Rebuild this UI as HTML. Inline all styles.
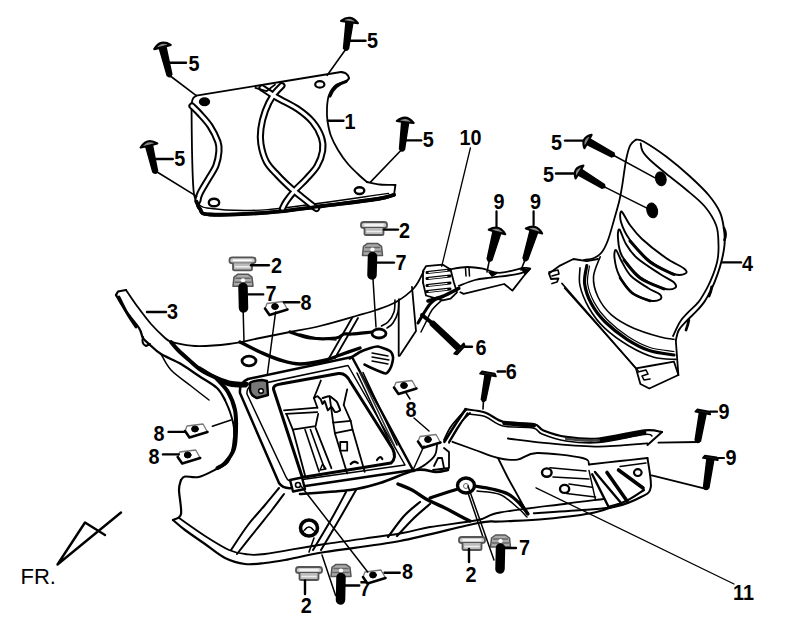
<!DOCTYPE html>
<html><head><meta charset="utf-8"><style>
html,body{margin:0;padding:0;background:#fff;overflow:hidden;}
svg{display:block;}
text{font-family:"Liberation Sans",sans-serif;fill:#000;stroke:none;}
</style></head><body>
<svg width="800" height="627" viewBox="0 0 800 627" stroke="#000" stroke-linecap="round" stroke-linejoin="round" fill="none">
<rect width="800" height="627" fill="#fff" stroke="none"/>
<path d="M191.5,104 C191.6,111.7 191.7,135.5 192,150 C192.3,164.5 192.8,182.4 193.6,191 C194.4,199.6 196.2,199.8 196.7,201.5" stroke-width="1.8" fill="none"/>
<path d="M196.3,95.7 L341,72" stroke-width="1.8" fill="none"/>
<path d="M191.5,104 C191.8,103.1 192.2,99.9 193,98.5 C193.8,97.1 195.8,96.2 196.3,95.7" stroke-width="1.8" fill="none"/>
<path d="M341,72 C341.8,72.2 344.7,72.5 346,73.5 C347.3,74.5 349,76.7 349,78 C349,79.3 346.5,80.9 346,81.5" stroke-width="2.2" fill="none"/>
<path d="M346,81.5 C344.3,82.1 338.8,82.8 336,85 C333.2,87.2 330.5,91.2 329,95 C327.5,98.8 327.2,103.7 327,108 C326.8,112.3 326.8,116.3 327.5,121 C328.2,125.7 329.2,131.2 331,136 C332.8,140.8 335.2,145.3 338,150 C340.8,154.7 344.3,159.7 348,164 C351.7,168.3 356.8,173 360,176 C363.2,179 365.8,181 367,182" stroke-width="1.8" fill="none"/>
<path d="M346,81.5 Q334,85 330,96" stroke-width="3.2" fill="none"/>
<path d="M367,182 C369.2,182.4 375.3,184 380,184.5 C384.7,185 392.8,184.9 395.4,185" stroke-width="1.8" fill="none"/>
<path d="M395.4,185 L394,194.8" stroke-width="1.8" fill="none"/>
<path d="M196.7,201.5 C197.2,202.8 197.8,206.8 200,209 C202.2,211.2 198.5,213.9 209.8,214.5 C221,215.1 248.7,214 267.5,212.6 C286.3,211.2 304.2,208.3 322.5,206 C340.8,203.7 365.6,200.9 377.5,199 C389.4,197.1 391.2,195.5 394,194.8" stroke-width="3.8" fill="none"/>
<path d="M198.8,200 C200.1,201.3 195.5,206.4 207,208 C218.5,209.6 237.2,212 267.5,209.6 C297.8,207.2 368.3,196.1 388.5,193.4" stroke-width="1.4" fill="none"/>
<ellipse cx="204.5" cy="101.8" rx="4.6" ry="3.4" stroke-width="2.2" fill="#000" transform="rotate(0 204.5 101.8)"/>
<ellipse cx="214" cy="202.5" rx="5.2" ry="3.8" stroke-width="2.4" fill="#fff" transform="rotate(0 214 202.5)"/>
<ellipse cx="319.8" cy="84.4" rx="4.6" ry="3.2" stroke-width="2.2" fill="#fff" transform="rotate(0 319.8 84.4)"/>
<ellipse cx="359.5" cy="190.6" rx="4.8" ry="3.4" stroke-width="2.4" fill="#fff" transform="rotate(0 359.5 190.6)"/>
<path d="M192,106 C193.3,107.3 197,110.7 200,114 C203,117.3 207,121.4 210,126 C213,130.6 216.4,137.5 217.9,141.8 C219.4,146.1 219.2,147.8 218.9,151.8 C218.6,155.8 217.7,161 215.9,165.7 C214.1,170.3 210.6,175 207.9,179.7 C205.2,184.3 201.6,190.1 199.9,193.6 C198.2,197.1 198.2,199.4 197.9,200.6" stroke-width="7.2" fill="none"/>
<path d="M192,106 C193.3,107.3 197,110.7 200,114 C203,117.3 207,121.4 210,126 C213,130.6 216.4,137.5 217.9,141.8 C219.4,146.1 219.2,147.8 218.9,151.8 C218.6,155.8 217.7,161 215.9,165.7 C214.1,170.3 210.6,175 207.9,179.7 C205.2,184.3 201.6,190.1 199.9,193.6 C198.2,197.1 198.2,199.4 197.9,200.6" stroke-width="3.2" fill="none" stroke="#fff"/>
<path d="M281.9,85.7 C280.4,87.3 275.8,91.4 273,95.6 C270.2,99.8 267.3,105.5 265.3,111 C263.3,116.5 261.6,123.2 260.9,128.7 C260.2,134.2 260,138.5 260.9,144 C261.8,149.5 263.6,156.5 266.4,161.7 C269.1,166.9 273.3,170.6 277.4,175 C281.4,179.4 286.6,184.3 290.7,188 C294.8,191.7 298,194 301.7,197 C305.4,200 310.2,203.9 312.7,205.8 C315.2,207.7 315.9,208.1 316.5,208.5" stroke-width="7.2" fill="none"/>
<path d="M262,87.9 C264.6,89.6 271.5,94.3 277.4,97.8 C283.3,101.3 291.4,104.8 297.3,108.8 C303.2,112.8 308.7,117.2 312.7,122 C316.7,126.8 319.9,132.7 321.5,137.5 C323.1,142.3 323.3,145.9 322.6,150.7 C321.9,155.4 319.9,161.2 317.1,166 C314.3,170.8 309.7,175.2 306,179.3 C302.3,183.4 298.3,186.6 295,190.3 C291.7,194 288.4,198.3 286.3,201.3 C284.2,204.3 283.1,207.3 282.5,208.5" stroke-width="7.2" fill="none"/>
<path d="M281.9,85.7 C280.4,87.3 275.8,91.4 273,95.6 C270.2,99.8 267.3,105.5 265.3,111 C263.3,116.5 261.6,123.2 260.9,128.7 C260.2,134.2 260,138.5 260.9,144 C261.8,149.5 263.6,156.5 266.4,161.7 C269.1,166.9 273.3,170.6 277.4,175 C281.4,179.4 286.6,184.3 290.7,188 C294.8,191.7 298,194 301.7,197 C305.4,200 310.2,203.9 312.7,205.8 C315.2,207.7 315.9,208.1 316.5,208.5" stroke-width="3.2" fill="none" stroke="#fff"/>
<path d="M262,87.9 C264.6,89.6 271.5,94.3 277.4,97.8 C283.3,101.3 291.4,104.8 297.3,108.8 C303.2,112.8 308.7,117.2 312.7,122 C316.7,126.8 319.9,132.7 321.5,137.5 C323.1,142.3 323.3,145.9 322.6,150.7 C321.9,155.4 319.9,161.2 317.1,166 C314.3,170.8 309.7,175.2 306,179.3 C302.3,183.4 298.3,186.6 295,190.3 C291.7,194 288.4,198.3 286.3,201.3 C284.2,204.3 283.1,207.3 282.5,208.5" stroke-width="3.2" fill="none" stroke="#fff"/>
<path d="M196.7,201.5 C197.2,202.8 197.8,206.8 200,209 C202.2,211.2 198.5,213.9 209.8,214.5 C221,215.1 248.7,214 267.5,212.6 C286.3,211.2 304.2,208.3 322.5,206 C340.8,203.7 365.6,200.9 377.5,199 C389.4,197.1 391.2,195.5 394,194.8" stroke-width="3.4" fill="none"/>
<path d="M255.4,87.9 L266.4,91.2 L275,84.6" stroke-width="1.8" fill="none"/>
<path d="M159.1,47.8 L167.1,75.6 L171.9,74.4 L165.9,46.2 Z" stroke-width="1.4" fill="#000"/>
<ellipse cx="169.5" cy="75" rx="2.5" ry="2.5" stroke-width="0" fill="#000" transform="rotate(0 169.5 75)"/>
<path d="M154.3,49.1 Q160.4,38.8 170.7,44.9 Q162.6,47.5 154.3,49.1 Z" stroke-width="2.2" fill="#888"/>
<line x1="169.7" y1="62.8" x2="186" y2="62.8" stroke-width="2.4"/>
<text transform="translate(188.5,70.5) scale(0.88,1)" x="0" y="0" font-size="22.5" font-weight="bold" >5</text>
<line x1="169.7" y1="75.5" x2="196.3" y2="95.7" stroke-width="1.6"/>
<path d="M346,21.5 L343.5,48.2 L348.5,48.8 L353,22.5 Z" stroke-width="1.4" fill="#000"/>
<ellipse cx="346" cy="48.5" rx="2.5" ry="2.5" stroke-width="0" fill="#000" transform="rotate(0 346 48.5)"/>
<path d="M341.1,20.9 Q350.6,13.6 357.9,23.1 Q349.4,22.5 341.1,20.9 Z" stroke-width="2.2" fill="#888"/>
<line x1="349" y1="40.8" x2="365.5" y2="40.8" stroke-width="2.4"/>
<text transform="translate(367,48) scale(0.88,1)" x="0" y="0" font-size="22.5" font-weight="bold" >5</text>
<line x1="346.3" y1="48.5" x2="327.2" y2="75.3" stroke-width="1.6"/>
<path d="M145.6,146.3 L152.8,172.1 L157.6,170.9 L152.4,144.7 Z" stroke-width="1.4" fill="#000"/>
<ellipse cx="155.2" cy="171.5" rx="2.5" ry="2.5" stroke-width="0" fill="#000" transform="rotate(0 155.2 171.5)"/>
<path d="M140.7,147.5 Q147,137.2 157.3,143.5 Q149.1,146 140.7,147.5 Z" stroke-width="2.2" fill="#888"/>
<line x1="156.3" y1="159" x2="172.8" y2="159" stroke-width="2.4"/>
<text transform="translate(174.3,166) scale(0.88,1)" x="0" y="0" font-size="22.5" font-weight="bold" >5</text>
<line x1="156.3" y1="171.5" x2="196.7" y2="196.4" stroke-width="1.6"/>
<path d="M401.7,121.6 L399.5,149 L404.5,149.6 L408.7,122.4 Z" stroke-width="1.4" fill="#000"/>
<ellipse cx="402" cy="149.3" rx="2.5" ry="2.5" stroke-width="0" fill="#000" transform="rotate(0 402 149.3)"/>
<path d="M396.8,121 Q406.2,113.6 413.6,123 Q405.1,122.5 396.8,121 Z" stroke-width="2.2" fill="#888"/>
<line x1="405.9" y1="140.4" x2="421.2" y2="140.4" stroke-width="2.4"/>
<text transform="translate(422.8,146.5) scale(0.88,1)" x="0" y="0" font-size="22.5" font-weight="bold" >5</text>
<line x1="402" y1="149.3" x2="370.2" y2="182.4" stroke-width="1.6"/>
<line x1="328" y1="120.7" x2="343.4" y2="120.7" stroke-width="2.4"/>
<text transform="translate(344.5,128.5) scale(0.88,1)" x="0" y="0" font-size="22.5" font-weight="bold" >1</text>
<path d="M636,139.6 C635,140.6 631.8,142.1 630.2,145.3 C628.6,148.5 627.6,152.3 626.3,158.7 C625,165.1 623.6,176.7 622.5,183.6 C621.4,190.5 620.9,193.9 619.5,200 C618.1,206.1 615.9,213.3 614,220 C612.1,226.7 610,234.7 608,240 C606,245.3 604.3,249 602,252 C599.7,255 597,256.7 594,258 C591,259.3 585.7,259.7 584,260" stroke-width="1.8" fill="none"/>
<path d="M636,139.6 C637.3,139.9 638.5,138.6 643.6,141.5 C648.7,144.4 658.9,151.1 666.5,156.8 C674.1,162.6 682.5,169.6 689.5,176 C696.5,182.4 703.5,188.9 708.6,195 C713.7,201.1 717.4,206.6 720,212.3 C722.6,218.1 723.2,224.1 724,229.5 C724.8,234.9 724.9,239.9 724.5,245 C724.1,250.1 723,255.1 721.8,260 C720.6,264.9 719.2,269.6 717.5,274.4 C715.8,279.2 713.9,284.2 711.7,288.7 C709.5,293.2 707.1,297.8 704.5,301.6 C701.9,305.4 699.1,308.4 696,311.7 C692.9,315 688.8,318.6 685.9,321.7 C683,324.8 680.4,327.2 678.7,330.3 C677,333.4 676.3,338.7 675.8,340.4" stroke-width="1.9" fill="none"/>
<path d="M640.7,143.4 C641,144.7 641,148.2 642.5,151 C644,153.8 646,156.2 650,160 C654,163.8 660.5,169.1 666.5,174 C672.5,178.9 679.3,183.9 685.7,189.3 C692.1,194.7 699.7,200.4 704.8,206.5 C709.9,212.6 714,219.3 716.3,225.7 C718.6,232.1 718.3,239.3 718.5,245 C718.7,250.7 718.4,255.1 717.5,260 C716.6,264.9 714.9,269.8 713.2,274.4 C711.5,278.9 709.8,282.8 707.4,287.3 C705,291.8 701.9,297.5 698.8,301.6 C695.7,305.7 691.9,308.4 688.8,311.7 C685.7,315 682.7,317.6 680.1,321.7 C677.5,325.8 674.2,333.6 673,336" stroke-width="1.8" fill="none"/>
<path d="M724,228 Q727,234 724.5,240" stroke-width="2.6" fill="none"/>
<path d="M711.7,287 Q711,292 709,296" stroke-width="2.8" fill="none"/>
<path d="M688.8,320 Q688,325 686,330" stroke-width="2.8" fill="none"/>
<ellipse cx="660.8" cy="178.8" rx="5.3" ry="7" stroke-width="1" fill="#000" transform="rotate(-15 660.8 178.8)"/>
<ellipse cx="652.2" cy="210.4" rx="5.3" ry="7.5" stroke-width="1" fill="#000" transform="rotate(-15 652.2 210.4)"/>
<path d="M621.5,211.5 C623,212 626.6,220.4 630,225 C633.4,229.6 636,233.5 642,239 C648,244.5 659,253.1 666,258 C673,262.9 680.8,265.9 684,268.5 C687.2,271.1 687.2,272.6 685.5,273.5 C683.8,274.4 679.9,276.1 674,274 C668.1,271.9 657.3,266.7 650,261 C642.7,255.3 634.8,246.5 630,240 C625.2,233.5 622.4,226.8 621,222 C619.6,217.2 620,211 621.5,211.5 Z" stroke-width="1.9" fill="none"/>
<path d="M674,274.5 C670,272.4 657.3,267.6 650,262 C642.7,256.4 633.3,244.5 630,241" stroke-width="3" fill="none"/>
<path d="M619.5,229.5 C620.8,230.5 623.1,239.2 626,244 C628.9,248.8 631.3,253 637,258 C642.7,263 653.8,269.9 660,274 C666.2,278.1 671.5,280.2 674,282.5 C676.5,284.8 676.7,287 675,288 C673.3,289 669.8,290.3 664,288.5 C658.2,286.7 647,282.4 640,277 C633,271.6 625.7,262.5 622,256 C618.3,249.5 618.4,242.4 618,238 C617.6,233.6 618.2,228.5 619.5,229.5 Z" stroke-width="1.9" fill="none"/>
<path d="M664,289 C660,287.2 646.7,282.8 640,278 C633.3,273.2 626.7,263 624,260" stroke-width="3" fill="none"/>
<path d="M616,250 C617.2,250.7 619.5,257.7 622,262 C624.5,266.3 626.7,271.7 631,276 C635.3,280.3 643.2,284.9 648,288 C652.8,291.1 658,292.6 660,294.5 C662,296.4 661.7,298.5 660,299.5 C658.3,300.5 654.7,301.7 650,300.5 C645.3,299.3 637.2,296.8 632,292.5 C626.8,288.2 621.9,280.8 619,275 C616.1,269.2 615,262.2 614.5,258 C614,253.8 614.8,249.3 616,250 Z" stroke-width="1.9" fill="none"/>
<path d="M650,301 C647,299.7 637,296.8 632,293 C627,289.2 622,280.5 620,278" stroke-width="2.6" fill="none"/>
<path d="M600.2,256.7 C599.1,260.1 593.9,270.1 593.5,276.8 C593.1,283.5 595,290.7 598,297 C601,303.3 605.4,309.6 611.4,314.8 C617.4,320 625.5,324.5 633.7,328.2 C641.9,331.9 653.8,335.2 660.5,337.1 C667.2,339 671.8,338.9 674,339.3" stroke-width="1.6" fill="none"/>
<path d="M586.8,265.6 C586.4,268.6 583.9,277.2 584.6,283.5 C585.4,289.8 587.9,297.3 591.3,303.6 C594.6,309.9 598.8,315.6 604.7,321.5 C610.7,327.4 619.6,334.5 627,339.3 C634.4,344.1 641.5,347.9 649.3,350.5 C657.1,353.1 669.9,354.2 674,355" stroke-width="3.2" fill="none"/>
<path d="M589.5,266 C589.2,268.9 586.8,277.4 587.6,283.5 C588.4,289.6 591.1,296.6 594.3,302.6 C597.5,308.6 601.4,313.9 607,319.5 C612.6,325.1 620.8,331.8 628,336.5 C635.2,341.2 642.3,345 650,347.5 C657.7,350 670,350.8 674,351.5" stroke-width="1.2" fill="none"/>
<path d="M580,267.9 C580,270.9 578.5,279 580,285.7 C581.5,292.4 584.9,300.9 589,308 C593.1,315.1 598,321.9 604.7,328.2 C611.4,334.5 620.8,341.2 629,346 C637.2,350.8 646,355 653.8,357.2 C661.6,359.4 672.3,359 676,359.4" stroke-width="1.6" fill="none"/>
<path d="M549,273.4 L560,265.6 L573.4,259 L586.8,261.2 L598,259" stroke-width="1.8" fill="none"/>
<path d="M549,273.4 L551,279 L558.5,278.5 L557,282 L552,283.5" stroke-width="1.8" fill="none"/>
<path d="M549,272 L558,270 L559,274 L552,276" stroke-width="1.6" fill="none"/>
<line x1="562" y1="283.5" x2="636" y2="368.4" stroke-width="1.8"/>
<line x1="564.5" y1="288" x2="638.2" y2="370.6" stroke-width="1.4"/>
<path d="M636,368.4 L649.3,366 L674,361.7 L678.4,375 L649.3,388.5 L640.4,384 L636,368.4" stroke-width="1.8" fill="none"/>
<path d="M638,372 L646,370 L648,374 L642,376 L644,380 L650,379" stroke-width="1.6" fill="none"/>
<path d="M675.8,340.4 L677.3,360.6 L678.4,375" stroke-width="1.8" fill="none"/>
<path d="M586.5,144.4 L611.9,157 L614.1,153 L589.5,138.6 Z" stroke-width="1.4" fill="#000"/>
<ellipse cx="613" cy="155" rx="2.2" ry="2.2" stroke-width="0" fill="#000" transform="rotate(0 613 155)"/>
<path d="M584.4,148.1 Q580.5,137.5 591.6,134.9 Q588.4,141.7 584.4,148.1 Z" stroke-width="2.2" fill="#888"/>
<line x1="613" y1="155" x2="655" y2="177.8" stroke-width="1.5"/>
<line x1="565" y1="140.6" x2="583" y2="140.6" stroke-width="2.4"/>
<text transform="translate(551,149.5) scale(0.88,1)" x="0" y="0" font-size="22.5" font-weight="bold" >5</text>
<path d="M577.8,174.8 L602.2,188.3 L604.6,184.5 L581.2,169.2 Z" stroke-width="1.4" fill="#000"/>
<ellipse cx="603.4" cy="186.4" rx="2.2" ry="2.2" stroke-width="0" fill="#000" transform="rotate(0 603.4 186.4)"/>
<path d="M575.6,178.4 Q572.2,167.6 583.4,165.6 Q579.9,172.3 575.6,178.4 Z" stroke-width="2.2" fill="#888"/>
<line x1="603.4" y1="186.4" x2="647.4" y2="208.4" stroke-width="1.5"/>
<line x1="556" y1="173.5" x2="574" y2="173.5" stroke-width="2.4"/>
<text transform="translate(543,181.5) scale(0.88,1)" x="0" y="0" font-size="22.5" font-weight="bold" >5</text>
<line x1="722" y1="262.4" x2="741" y2="262.4" stroke-width="2.4"/>
<text transform="translate(742,270.5) scale(0.88,1)" x="0" y="0" font-size="22.5" font-weight="bold" >4</text>
<text transform="translate(459.5,145) scale(0.88,1)" x="0" y="0" font-size="22.5" font-weight="bold" >10</text>
<line x1="470.4" y1="148" x2="441.7" y2="266.4" stroke-width="1.3"/>
<text transform="translate(493.5,209) scale(0.88,1)" x="0" y="0" font-size="22.5" font-weight="bold" >9</text>
<line x1="496.5" y1="211.4" x2="496.5" y2="226.4" stroke-width="2.2"/>
<path d="M493.1,231 L487.1,258.9 L491.9,260.3 L500.9,233 Z" stroke-width="1.4" fill="#000"/>
<ellipse cx="489.5" cy="259.6" rx="2.5" ry="2.5" stroke-width="0" fill="#000" transform="rotate(0 489.5 259.6)"/>
<path d="M488.8,229.8 Q499.2,223.8 505.2,234.2 Q496.9,232.5 488.8,229.8 Z" stroke-width="2.2" fill="#888"/>
<line x1="489.5" y1="259.6" x2="487" y2="272" stroke-width="1.6"/>
<text transform="translate(530,209) scale(0.88,1)" x="0" y="0" font-size="22.5" font-weight="bold" >9</text>
<line x1="533.6" y1="211.4" x2="533.6" y2="225" stroke-width="2.2"/>
<path d="M530.2,229.8 L523,258.2 L527.8,259.6 L537.8,232.2 Z" stroke-width="1.4" fill="#000"/>
<ellipse cx="525.4" cy="258.9" rx="2.5" ry="2.5" stroke-width="0" fill="#000" transform="rotate(0 525.4 258.9)"/>
<path d="M525.9,228.5 Q536.5,222.9 542.1,233.5 Q533.9,231.5 525.9,228.5 Z" stroke-width="2.2" fill="#888"/>
<line x1="525.4" y1="258.9" x2="521" y2="270" stroke-width="1.6"/>
<path d="M423,282.5 L423,271 L426,266.2 L442.5,264.6 L450.6,269.5" stroke-width="1.8" fill="none"/>
<path d="M449,269.5 C452,269.1 461.3,267.1 467,267 C472.7,266.9 477.6,267.7 483,268.7 C488.4,269.7 492.6,272.9 499.4,272.8 C506.2,272.6 518.6,268.7 523.8,268 C528.9,267.3 529.1,268.6 530.2,268.7" stroke-width="1.8" fill="none"/>
<path d="M458.8,285.8 C461.5,284.8 469.6,281.4 475,280 C480.4,278.6 484.2,278.5 491,277.6 C497.8,276.7 509.6,275.5 515.6,274.4 C521.6,273.3 525.1,271.6 527,271" stroke-width="1.8" fill="none"/>
<path d="M530.2,268.7 L523.8,276 L512.4,290.6 L504.2,284 L463.6,293.9 L460.4,292.3" stroke-width="1.8" fill="none"/>
<path d="M423,282.5 L426,295.5 L442.5,300.4 L450.6,298.7 L457,292.3 L453.9,282.5 L450.6,269.5" stroke-width="1.8" fill="none"/>
<line x1="427" y1="272.5" x2="450" y2="270" stroke-width="3"/>
<line x1="429" y1="272.5" x2="447" y2="270.5" stroke-width="1" stroke="#fff"/>
<line x1="427" y1="278.5" x2="450" y2="276" stroke-width="3"/>
<line x1="429" y1="278.5" x2="447" y2="276.5" stroke-width="1" stroke="#fff"/>
<line x1="427" y1="285.5" x2="450" y2="283" stroke-width="3"/>
<line x1="429" y1="285.5" x2="447" y2="283.5" stroke-width="1" stroke="#fff"/>
<line x1="427" y1="291.5" x2="450" y2="289" stroke-width="3"/>
<line x1="429" y1="291.5" x2="447" y2="289.5" stroke-width="1" stroke="#fff"/>
<line x1="465.5" y1="268" x2="466" y2="276" stroke-width="1.5"/>
<line x1="469" y1="268" x2="469.5" y2="276" stroke-width="1.5"/>
<path d="M489,272 L492,276 L497,273 Z" stroke-width="1.5" fill="#000"/>
<path d="M428,301 C430.4,300.2 437.4,298.6 442.5,296.5 C447.6,294.4 456,289.8 458.8,288.4" stroke-width="3.6" fill="none"/>
<path d="M522,269 L525,274 L529,270 Z" stroke-width="1.5" fill="#000"/>
<path d="M229.5,259.8 Q229.5,257.3 232.5,257.3 L252.5,257.3 Q255.5,257.3 255.5,259.8 L255.5,261.3 Q255.5,263.3 252.5,263.3 L232.5,263.3 Q229.5,263.3 229.5,261.3 Z" stroke-width="1.8" fill="#ccc" stroke="#555"/>
<line x1="233.5" y1="260.3" x2="251.5" y2="260.3" stroke-width="1.6" stroke="#fff"/>
<path d="M233.0,263.3 L233.0,269.3 Q233.0,270.3 234.5,270.3 L250.5,270.3 Q252.0,270.3 252.0,269.3 L252.0,263.3" stroke-width="1.8" fill="#bbb" stroke="#555"/>
<line x1="235.5" y1="266.8" x2="249.5" y2="266.8" stroke-width="1.6" stroke="#eee"/>
<line x1="251" y1="265.2" x2="268.9" y2="265.2" stroke-width="2.4"/>
<text transform="translate(271,273) scale(0.88,1)" x="0" y="0" font-size="22.5" font-weight="bold" >2</text>
<path d="M233,286.2 L234,277.2 L238,274.2 L248,274.2 L252,277.2 L253,286.2 Z" stroke-width="1.5" fill="#aaa" stroke="#555"/>
<line x1="236" y1="278.2" x2="250" y2="278.2" stroke-width="1.5" stroke="#666"/>
<line x1="235" y1="282.2" x2="251" y2="282.2" stroke-width="1.5" stroke="#666"/>
<ellipse cx="243" cy="280.2" rx="2.2" ry="2" stroke-width="0" fill="#fff" transform="rotate(0 243 280.2)"/>
<line x1="243" y1="287.2" x2="243.5" y2="308" stroke-width="9.5"/>
<line x1="248.6" y1="294.4" x2="263.2" y2="294.4" stroke-width="2.4"/>
<text transform="translate(265.5,301.3) scale(0.88,1)" x="0" y="0" font-size="22.5" font-weight="bold" >7</text>
<line x1="243.2" y1="312" x2="244" y2="342" stroke-width="1.5"/>
<path d="M265,308.5 L269.5,315 L287.5,309.5 L283,301.5 L267,303.5 Z" stroke-width="1.3" fill="#fff" stroke="#777"/>
<path d="M265,308.5 L269.5,315 L287.5,309.5" stroke-width="2.6" fill="none"/>
<ellipse cx="275" cy="306.5" rx="3.4" ry="3" stroke-width="1" fill="#000" transform="rotate(0 275 306.5)"/>
<line x1="284" y1="302.3" x2="299.2" y2="302.3" stroke-width="2.4"/>
<text transform="translate(300.5,310.3) scale(0.88,1)" x="0" y="0" font-size="22.5" font-weight="bold" >8</text>
<line x1="275.6" y1="312" x2="267.4" y2="374" stroke-width="1.5"/>
<path d="M361,224.5 Q361,222 364,222 L384,222 Q387,222 387,224.5 L387,226 Q387,228 384,228 L364,228 Q361,228 361,226 Z" stroke-width="1.8" fill="#ccc" stroke="#555"/>
<line x1="365" y1="225" x2="383" y2="225" stroke-width="1.6" stroke="#fff"/>
<path d="M364.5,228 L364.5,234 Q364.5,235 366,235 L382,235 Q383.5,235 383.5,234 L383.5,228" stroke-width="1.8" fill="#bbb" stroke="#555"/>
<line x1="367" y1="231.5" x2="381" y2="231.5" stroke-width="1.6" stroke="#eee"/>
<line x1="384" y1="229.6" x2="398" y2="229.6" stroke-width="2.4"/>
<text transform="translate(399,238) scale(0.88,1)" x="0" y="0" font-size="22.5" font-weight="bold" >2</text>
<path d="M362.5,255.4 L363.5,246.4 L367.5,243.4 L377.5,243.4 L381.5,246.4 L382.5,255.4 Z" stroke-width="1.5" fill="#aaa" stroke="#555"/>
<line x1="365.5" y1="247.4" x2="379.5" y2="247.4" stroke-width="1.5" stroke="#666"/>
<line x1="364.5" y1="251.4" x2="380.5" y2="251.4" stroke-width="1.5" stroke="#666"/>
<ellipse cx="372.5" cy="249.4" rx="2.2" ry="2" stroke-width="0" fill="#fff" transform="rotate(0 372.5 249.4)"/>
<line x1="372.5" y1="256.4" x2="372" y2="275" stroke-width="9.5"/>
<line x1="376" y1="262.6" x2="394" y2="262.6" stroke-width="2.4"/>
<text transform="translate(395.5,270) scale(0.88,1)" x="0" y="0" font-size="22.5" font-weight="bold" >7</text>
<line x1="373" y1="279" x2="376" y2="327" stroke-width="1.5"/>
<path d="M116,295 L118,291.5 L126,290" stroke-width="2.2" fill="none"/>
<path d="M126,290 C127.8,292.7 132.8,300.3 137,306 C141.2,311.7 146.3,318.7 151,324 C155.7,329.3 161.7,335 165,338 C168.3,341 170,341.3 171,342" stroke-width="1.8" fill="none"/>
<path d="M116,295 C117.5,297.5 121.2,304.5 125,310 C128.8,315.5 136,323.3 139,328 C142,332.7 141.3,335.3 143,338 C144.7,340.7 146,341.3 149,344 C152,346.7 155.7,350.7 161,354 C166.3,357.3 174.7,360.3 181,364 C187.3,367.7 193,372 199,376 C205,380 212.7,384 217,388 C221.3,392 223.7,398 225,400" stroke-width="2.3" fill="none"/>
<path d="M119,297 C120.3,299.7 124.2,308 127,313 C129.8,318 134.5,324.7 136,327" stroke-width="2.8" fill="none"/>
<path d="M171,342 C172.2,343.3 175,347 178,350 C181,353 185.2,356.7 189,360 C192.8,363.3 196.3,367 201,370 C205.7,373 211.8,375.8 217,378 C222.2,380.2 227,382 232,383 C237,384 244.5,383.8 247,384" stroke-width="4" fill="none"/>
<path d="M161,354 C162.7,356.7 166,364.7 171,370 C176,375.3 184.7,381 191,386 C197.3,391 206,397.7 209,400" stroke-width="1.5" fill="none"/>
<path d="M143,337 Q141,344 146,346 L150,344" stroke-width="2" fill="none"/>
<path d="M171,342 C175,342.7 185.3,345.7 195,346 C204.7,346.3 218.2,345.3 229,344 C239.8,342.7 249.8,340 260,338 C270.2,336 280,334 290,332 C300,330 309,328.7 320,326 C331,323.3 346.7,318.7 356,316 C365.3,313.3 369.3,312.3 376,310 C382.7,307.7 389.7,305.7 396,302 C402.3,298.3 409.4,293.1 414,288 C418.6,282.9 422,274.2 423.6,271.5" stroke-width="1.8" fill="none"/>
<path d="M240,342 C243.3,343.7 253.3,349 260,352 C266.7,355 273.3,358 280,360 C286.7,362 292.3,364 300,364 C307.7,364 319.3,361.5 326,360 C332.7,358.5 334.3,357 340,355 C345.7,353 356.7,349.2 360,348" stroke-width="3.4" fill="none"/>
<path d="M290,332 C293.3,333 302.3,337 310,338 C317.7,339 330.3,338.7 336,338 C341.7,337.3 341.3,334.7 344,334 C346.7,333.3 347.3,334.3 352,334 C356.7,333.7 368.7,332.3 372,332" stroke-width="3.2" fill="none"/>
<path d="M300,334 C303.3,334.8 314,337.5 320,338.5 C326,339.5 333.3,339.8 336,340" stroke-width="1.4" fill="none"/>
<line x1="352" y1="318" x2="328" y2="360" stroke-width="1.8"/>
<line x1="358" y1="318" x2="335" y2="358" stroke-width="1.8"/>
<ellipse cx="249" cy="361" rx="7" ry="4.8" stroke-width="2.8" fill="#fff" transform="rotate(0 249 361)"/>
<ellipse cx="379" cy="333.5" rx="7" ry="4.5" stroke-width="2.8" fill="#fff" transform="rotate(0 379 333.5)"/>
<path d="M200,368 C202.7,369.7 211,375.2 216,378 C221,380.8 225,383.7 230,385 C235,386.3 243.3,385.8 246,386" stroke-width="3.2" fill="none"/>
<path d="M216,378 C218,380.3 224.8,386.7 228,392 C231.2,397.3 233.7,403.7 235,410 C236.3,416.3 236.2,423.5 236,430 C235.8,436.5 235.8,443.5 234,449 C232.2,454.5 227.8,459.8 225,463 C222.2,466.2 218.8,467.2 217.5,468" stroke-width="4" fill="none"/>
<path d="M225,400 C225.8,402 228.5,407.3 230,412 C231.5,416.7 233.5,422.3 234,428 C234.5,433.7 234,440.3 233,446 C232,451.7 230.8,458.2 228,462 C225.2,465.8 221.4,466.5 216.5,469 C211.6,471.5 203.9,475.8 198.7,477 C193.4,478.2 187.9,476 185,476.5 C182.1,477 181.7,479.4 181,480" stroke-width="2" fill="none"/>
<path d="M181,480 C180.7,481.7 179,484.3 179,490 C179,495.7 182,509 181,514 C180,519 174.3,519 173,520" stroke-width="2.2" fill="none"/>
<path d="M173,520 C175,521.7 179.7,526 185,530 C190.3,534 198.3,539.3 205,544 C211.7,548.7 218.3,554.7 225,558 C231.7,561.3 238.3,563.2 245,564 C251.7,564.8 258.3,563.7 265,563 C271.7,562.3 275,561.8 285,560 C295,558.2 305.8,555.2 325,552 C344.2,548.8 374.5,545.8 400,541 C425.5,536.2 461.3,526.2 478,523 C494.7,519.8 488.8,522.2 500,521.5 C511.2,520.8 529.2,520.5 545,519 C560.8,517.5 581,515.5 594.5,512.5 C608,509.5 617.8,504.8 626,501 C634.2,497.2 641,491.8 644,490" stroke-width="2.2" fill="none"/>
<path d="M179,518 C183.3,521 196.7,530.7 205,536 C213.3,541.3 222.3,547 229,550 C235.7,553 239,553.3 245,554 C251,554.7 251.7,555.7 265,554 C278.3,552.3 302.5,547.4 325,544 C347.5,540.6 382.5,536.3 400,533.5 C417.5,530.7 417,529.2 430,527 C443,524.8 466.3,522.4 478,520 C489.7,517.6 485.1,515.2 500,512.5 C514.9,509.8 550.2,505.8 567.5,503.5 C584.8,501.2 597.5,499.8 603.5,499" stroke-width="1.8" fill="none"/>
<path d="M248,379 L352,357 L413,470 L292,488 Q283,489 279,483 L240,393 Q239,383 248,379 Z" stroke-width="2.5" fill="none"/>
<path d="M251,386 L348,365.5 L405,465 L292,481 Q288,481.5 286,477 L247,394 Q246.5,388 251,386 Z" stroke-width="1.5" fill="none"/>
<path d="M273.5,389.3 Q273,385 280.5,384 L338.4,373.5 Q346,372.5 350.7,382.3 L392.8,449 Q397,458 391,463 L305,477 Q302,477 301.6,475.3 Z" stroke-width="3" fill="none"/>
<path d="M357,373 L392,447" stroke-width="1.6" fill="none"/>
<path d="M363,372.5 L397,445" stroke-width="1.6" fill="none"/>
<path d="M360,373 L394.5,446" stroke-width="1.6" fill="none" stroke="#333"/>
<path d="M284,410.4 L317.4,407.7" stroke-width="1.8" fill="none"/>
<path d="M285.8,413.9 L317.4,412.1" stroke-width="1.6" fill="none"/>
<path d="M286.7,414.7 L292.8,429.6 L315.6,426.1 L318.2,413.9" stroke-width="1.8" fill="none"/>
<path d="M320.9,380.5 L313.9,398 L317.4,407.7" stroke-width="1.8" fill="none"/>
<path d="M313.9,398 C314.1,397.9 316.9,396.2 317.4,396.3 C317.9,396.4 320.6,399.3 320.9,399.8 C321.2,400.3 322.4,403.9 322.6,404 C322.8,404.1 324.3,400.9 324.5,401 C324.7,401.1 325.9,404.4 326.1,405 C326.3,405.6 327.5,410.3 327.9,410.4 C328.3,410.5 330.9,406.7 331.4,406.8 C331.9,406.9 334.4,411.9 335,412.1 C335.6,412.3 340.1,411.1 340.2,410.4 C340.3,409.7 337.4,402.5 336.7,401.6 C336,400.7 330.5,396.5 329.6,396.3 C328.7,396.1 323.1,397.9 322.6,398" stroke-width="2" fill="none"/>
<path d="M329.6,396.3 L333.2,422.6 L334.9,433.2 L347.2,473.5" stroke-width="1.8" fill="none"/>
<path d="M343.7,405 L350.7,420.9 L352.5,429.6 L364.7,471.8" stroke-width="1.8" fill="none"/>
<path d="M333.2,422.6 L350.7,420.9" stroke-width="1.8" fill="none"/>
<path d="M334.9,433.2 L352.5,429.6" stroke-width="1.8" fill="none"/>
<path d="M340.2,442 L347.2,442 L347.2,450.7 L340.2,450.7 Z" stroke-width="1.8" fill="none"/>
<path d="M347.2,389.3 L343.7,405" stroke-width="1.8" fill="none"/>
<path d="M292.8,429.6 L305,475.3" stroke-width="1.8" fill="none"/>
<path d="M305,429.6 L319.1,471.8" stroke-width="1.6" fill="none"/>
<path d="M310.4,429.6 L324.4,468.2" stroke-width="1.6" fill="none"/>
<path d="M315.6,427.9 L331.4,468.2" stroke-width="1.8" fill="none"/>
<path d="M320,470 L322.6,464 L326,469 Z" stroke-width="1.4" fill="none"/>
<path d="M350.7,464 Q354,460 357.7,463" stroke-width="2.2" fill="none"/>
<path d="M377,460 Q380,455 382.3,459" stroke-width="2.2" fill="none"/>
<path d="M290,480 L302,477.5 L305,489 L293,491.5 Z" stroke-width="2.4" fill="#fff"/>
<ellipse cx="298" cy="485" rx="2.5" ry="2.5" stroke-width="1.6" fill="#fff" transform="rotate(0 298 485)"/>
<path d="M250,383 Q252,381 262,380 L267,381 L268,395 L257,398 Q251,396 250,390 Z" stroke-width="2.4" fill="#777"/>
<ellipse cx="261" cy="391" rx="2.4" ry="2.2" stroke-width="1.4" fill="#fff" transform="rotate(0 261 391)"/>
<path d="M349.5,358.5 C350.6,357.9 357.9,353.1 360,352 C362.1,350.9 368.7,348.6 370.5,348 C372.3,347.4 376.1,346.2 378,346.5 C379.9,346.8 388.5,349.9 390,351 C391.5,352.1 392.8,355.7 393,357 C393.2,358.3 392.3,362.8 392,364 C391.7,365.2 390.6,368.1 390,369 C389.4,369.9 387.4,373.6 385.5,373.5 C383.6,373.4 372.6,368.4 370.5,367.5 C368.4,366.6 365.1,364.8 364.5,364.5" stroke-width="2.6" fill="none"/>
<path d="M372,353 L388,356" stroke-width="1.3" fill="none"/>
<path d="M372,357 L389,360" stroke-width="1.3" fill="none"/>
<path d="M372,361 L388,364" stroke-width="1.3" fill="none"/>
<path d="M395,300 C394.8,302 395.2,308.3 394,312 C392.8,315.7 390.1,319.7 388,322 C385.9,324.3 382.6,325.3 381.5,326" stroke-width="1.6" fill="none"/>
<path d="M399,299 C398.8,301.2 399,308 398,312 C397,316 394.8,320.3 393,323 C391.2,325.7 388,327.2 387,328" stroke-width="1.6" fill="none"/>
<line x1="398.7" y1="300" x2="398.7" y2="355.8" stroke-width="1.8"/>
<path d="M412,287 L416,331 L399.7,355.8" stroke-width="1.8" fill="none"/>
<path d="M437,298 C435.8,299 432.2,301.4 430,304 C427.8,306.6 425.6,310.4 423.6,313.6 C421.6,316.8 418.9,321.4 418,323" stroke-width="3" fill="none"/>
<path d="M442,300 C440.3,301.7 434.7,306.3 432,310 C429.3,313.7 427.8,318.3 426,322 C424.2,325.7 421.8,330.3 421,332" stroke-width="1.5" fill="none"/>
<path d="M413,471.5 C415.2,470.2 422.3,466.8 426,464 C429.7,461.2 433.2,458.2 435,455 C436.8,451.8 436.7,446.7 437,445" stroke-width="1.8" fill="none"/>
<path d="M444,440 C445,438 447.7,431.7 450,428 C452.3,424.3 455.3,421 458,418 C460.7,415 464.7,411.3 466,410" stroke-width="1.8" fill="none"/>
<path d="M449,442 C450.2,440 453.8,433.5 456,430 C458.2,426.5 459.7,423.8 462,421 C464.3,418.2 468.7,414.3 470,413" stroke-width="1.8" fill="none"/>
<path d="M434,466 L438,458 L442,458 L444,468" stroke-width="1.8" fill="none"/>
<path d="M444,448 L449,452 L449,468 L433,470" stroke-width="1.8" fill="none"/>
<path d="M300,494 C308.3,493.3 336.7,491.8 350,490 C363.3,488.2 369,486.3 380,483 C391,479.7 406.7,471.8 416,470 C425.3,468.2 430.7,472 436,472 C441.3,472 446,470.3 448,470" stroke-width="2.6" fill="none"/>
<path d="M346,492 C343.7,496.3 337.5,508.3 332,518 C326.5,527.7 316.2,544.7 313,550" stroke-width="2" fill="none"/>
<path d="M356,490 C353.3,494.7 345.8,508 340,518 C334.2,528 324.2,544.7 321,550" stroke-width="2" fill="none"/>
<path d="M420,502 C417.3,504.3 409.3,510.2 404,516 C398.7,521.8 390.7,533.5 388,537" stroke-width="2.2" fill="none"/>
<path d="M430,504 C427.3,506.3 419.5,512.7 414,518 C408.5,523.3 399.8,533 397,536" stroke-width="2.2" fill="none"/>
<path d="M398,484 C400.3,485 407.3,487.5 412,490 C416.7,492.5 420.5,496 426,499 C431.5,502 439,505 445,508 C451,511 457.8,514.8 462,517 C466.2,519.2 468.7,520.3 470,521" stroke-width="3.4" fill="none"/>
<path d="M458,489 C455.3,489.8 446.7,492.5 442,494 C437.3,495.5 432,497.3 430,498" stroke-width="3.2" fill="none"/>
<ellipse cx="466" cy="485.5" rx="8.5" ry="7.5" stroke-width="3.4" fill="#fff" transform="rotate(0 466 485.5)"/>
<ellipse cx="466" cy="486" rx="2.5" ry="2.5" stroke-width="1" fill="none" transform="rotate(0 466 486)" stroke="#666"/>
<path d="M475,486 C477.8,486.5 486.5,487.7 492,489 C497.5,490.3 503.3,491.5 508,494 C512.7,496.5 516.7,500.7 520,504 C523.3,507.3 526.7,512.3 528,514" stroke-width="3.2" fill="none"/>
<path d="M477,491 C480.8,491.6 493.2,491.7 500,494.5 C506.8,497.3 513.5,504.2 518,508 C522.5,511.8 525.5,515.5 527,517" stroke-width="1.5" fill="none"/>
<line x1="468" y1="493" x2="484" y2="540" stroke-width="1.5"/>
<path d="M279,488 C276.7,490.8 270.2,498.8 265,505 C259.8,511.2 253.7,517.5 248,525 C242.3,532.5 233.8,545.8 231,550" stroke-width="2" fill="none"/>
<path d="M284,494 C282,496.7 276.7,504 272,510 C267.3,516 261.8,522.7 256,530 C250.2,537.3 240.2,550 237,554" stroke-width="2" fill="none"/>
<ellipse cx="309" cy="528" rx="8.5" ry="8" stroke-width="3.6" fill="#fff" transform="rotate(0 309 528)"/>
<path d="M305,530 Q309,524 313,530" stroke-width="1.2" fill="none"/>
<path d="M303,532 Q309,522 315,532" stroke-width="1.2" fill="none"/>
<line x1="314" y1="538" x2="309" y2="552" stroke-width="1.6"/>
<path d="M185,431 L189.5,437.5 L207.5,432 L203,424 L187,426 Z" stroke-width="1.3" fill="#fff" stroke="#777"/>
<path d="M185,431 L189.5,437.5 L207.5,432" stroke-width="2.6" fill="none"/>
<ellipse cx="195" cy="429" rx="3.4" ry="3" stroke-width="1" fill="#000" transform="rotate(0 195 429)"/>
<line x1="168.6" y1="431.9" x2="184.9" y2="431.9" stroke-width="2.4"/>
<text transform="translate(153.5,440.5) scale(0.88,1)" x="0" y="0" font-size="22.5" font-weight="bold" >8</text>
<line x1="212.4" y1="426.2" x2="231" y2="420" stroke-width="1.6"/>
<path d="M177.7,457 L182.2,463.5 L200.2,458 L195.7,450 L179.7,452 Z" stroke-width="1.3" fill="#fff" stroke="#777"/>
<path d="M177.7,457 L182.2,463.5 L200.2,458" stroke-width="2.6" fill="none"/>
<ellipse cx="187.7" cy="455" rx="3.4" ry="3" stroke-width="1" fill="#000" transform="rotate(0 187.7 455)"/>
<line x1="163" y1="454.4" x2="178.7" y2="454.4" stroke-width="2.4"/>
<text transform="translate(148.5,463.7) scale(0.88,1)" x="0" y="0" font-size="22.5" font-weight="bold" >8</text>
<path d="M394,387.5 L398.5,394 L416.5,388.5 L412,380.5 L396,382.5 Z" stroke-width="1.3" fill="#fff" stroke="#777"/>
<path d="M394,387.5 L398.5,394 L416.5,388.5" stroke-width="2.6" fill="none"/>
<ellipse cx="404" cy="385.5" rx="3.4" ry="3" stroke-width="1" fill="#000" transform="rotate(0 404 385.5)"/>
<text transform="translate(405.5,417) scale(0.88,1)" x="0" y="0" font-size="22.5" font-weight="bold" >8</text>
<line x1="405.5" y1="392" x2="410" y2="399" stroke-width="1.5"/>
<line x1="414" y1="418" x2="429" y2="431" stroke-width="1.5"/>
<path d="M418,441.5 L422.5,448 L440.5,442.5 L436,434.5 L420,436.5 Z" stroke-width="1.3" fill="#fff" stroke="#777"/>
<path d="M418,441.5 L422.5,448 L440.5,442.5" stroke-width="2.6" fill="none"/>
<ellipse cx="428" cy="439.5" rx="3.4" ry="3" stroke-width="1" fill="#000" transform="rotate(0 428 439.5)"/>
<line x1="424" y1="446" x2="413" y2="470" stroke-width="1.5"/>
<text transform="translate(167,319) scale(0.88,1)" x="0" y="0" font-size="22.5" font-weight="bold" >3</text>
<line x1="147" y1="312" x2="166" y2="312" stroke-width="2.4"/>
<path d="M444.4,441.8 C446.2,439 451.5,430.4 455,425 C458.5,419.6 463.8,411.9 465.5,409.2" stroke-width="2.6" fill="none"/>
<path d="M449,443 C450.5,440.5 454.9,433 458,428 C461.1,423 465.9,415.5 467.5,413" stroke-width="1.6" fill="none"/>
<path d="M465.5,409.2 C468.8,409.8 478.5,410.3 485,412.5 C491.5,414.7 496.4,420.3 504.5,422.2 C512.6,424.2 527.2,422.6 533.8,424 C540.2,425.4 538.1,428.2 543.5,430.4 C548.9,432.5 557,435.5 566.2,436.9 C575.5,438.2 585.8,439.6 598.8,438.5 C611.8,437.4 633.7,431.5 644.2,430.4 C654.8,429.3 659,431.7 662,432" stroke-width="2.2" fill="none"/>
<path d="M467,414 C470,414.4 479,414.5 485,416.5 C491,418.5 495,424.1 503,426 C511,427.9 526.5,426.7 533,428 C539.5,429.3 536.5,431.8 542,434 C547.5,436.2 556.5,439.6 566,441 C575.5,442.4 585.8,443.6 598.8,442.5 C611.8,441.4 635.1,435.6 644,434.5 C652.9,433.4 650.7,435.8 652,436" stroke-width="1.6" fill="none"/>
<path d="M504.5,423 C507.1,423.2 515.1,424.1 520,424.5 C524.9,424.9 531.5,425.3 533.8,425.5" stroke-width="4.5" fill="none"/>
<path d="M598.8,440.5 C602.3,439.9 612.4,438.3 620,437 C627.6,435.7 640.2,433.2 644.2,432.5" stroke-width="4.5" fill="none"/>
<path d="M566.2,438.9 C569.4,439.2 579.6,440.2 585,440.5 C590.4,440.8 596.5,440.5 598.8,440.5" stroke-width="2.6" fill="none" stroke="#444"/>
<path d="M662,432 L647.5,445" stroke-width="2" fill="none"/>
<path d="M507.8,438.5 C514.8,439.3 534.8,442 550,443.4 C565.2,444.8 582.5,446.6 598.8,446.6 C615,446.6 639.4,443.9 647.5,443.4" stroke-width="1.8" fill="none"/>
<path d="M452.5,441.8 C456.2,443.1 467.4,447.3 475,450 C482.6,452.7 490.9,456.4 498,458 C505.1,459.6 511,460.4 517.5,459.6 C524,458.8 526.2,453.3 537,453 C547.8,452.7 573.8,456.1 582.5,458 C591.2,459.9 587.9,463.4 589,464.5" stroke-width="1.8" fill="none"/>
<path d="M589,464.5 C594.2,463.9 610.2,462.1 620,461 C629.8,459.9 642.9,458.5 647.5,458" stroke-width="1.8" fill="none"/>
<path d="M647.5,458 C648,462.9 651.8,480.8 650.8,487.2 C649.7,493.8 647,493.8 641,497 C635,500.2 624.8,504.6 615,506.8 C605.2,508.9 596,508.9 582.5,510 C569,511.1 541.9,512.7 533.8,513.2" stroke-width="2" fill="none"/>
<path d="M498,458 C499.7,461.3 504.7,471.7 508,478 C511.3,484.3 514.8,490.1 518,496 C521.2,501.9 525.7,510.4 527.2,513.2" stroke-width="1.8" fill="none"/>
<path d="M520,502 L527.2,513.2" stroke-width="3.2" fill="none"/>
<ellipse cx="546.8" cy="472.6" rx="4.8" ry="4.2" stroke-width="2.4" fill="#fff" transform="rotate(0 546.8 472.6)"/>
<ellipse cx="564.6" cy="488.9" rx="4.6" ry="4" stroke-width="2.4" fill="#fff" transform="rotate(0 564.6 488.9)"/>
<ellipse cx="637.8" cy="472.6" rx="3.8" ry="3.4" stroke-width="2.2" fill="#fff" transform="rotate(0 637.8 472.6)"/>
<path d="M550,467.7 L586,471" stroke-width="1.6" fill="none"/>
<path d="M553,477 L589,479" stroke-width="1.6" fill="none"/>
<path d="M569,484 L592,487.2" stroke-width="1.6" fill="none"/>
<path d="M566.5,493.5 L595.5,497" stroke-width="1.6" fill="none"/>
<path d="M589,470.5 L595.5,500" stroke-width="1.4" fill="none"/>
<path d="M592.2,474.2 L608.5,506.8 L621.5,503.5 L595,472" stroke-width="2.4" fill="none"/>
<path d="M607,472.5 L627,501" stroke-width="3.6" fill="none"/>
<path d="M618.5,470 L643,488" stroke-width="3.6" fill="none"/>
<path d="M620,466.5 L646,463" stroke-width="1.4" fill="none"/>
<line x1="536" y1="487.8" x2="734" y2="584" stroke-width="1.3"/>
<text transform="translate(733,600) scale(0.88,1)" x="0" y="0" font-size="22.5" font-weight="bold" >11</text>
<path d="M485,374.5 L481.3,399.6 L485.7,400.4 L491,375.5 Z" stroke-width="1.4" fill="#000"/>
<ellipse cx="483.5" cy="400" rx="2.2" ry="2.2" stroke-width="0" fill="#000" transform="rotate(0 483.5 400)"/>
<path d="M480.1,373.6 L482.1,371.4 L494.7,373.7 L495.9,376.4 Z" stroke-width="1.8" fill="#222"/>
<line x1="497.7" y1="371.5" x2="505" y2="371.5" stroke-width="2.4"/>
<text transform="translate(505.8,379) scale(0.88,1)" x="0" y="0" font-size="22.5" font-weight="bold" >6</text>
<line x1="483.5" y1="400" x2="483" y2="409" stroke-width="1.6"/>
<path d="M460.9,346.5 L433.7,321.2 L430.3,324.8 L457.1,350.5 Z" stroke-width="1.4" fill="#000"/>
<ellipse cx="432" cy="323" rx="2.5" ry="2.5" stroke-width="0" fill="#000" transform="rotate(0 432 323)"/>
<path d="M463.8,343.4 L464.7,346.1 L457,354.3 L454.2,353.6 Z" stroke-width="1.8" fill="#222"/>
<line x1="432" y1="323" x2="422" y2="315" stroke-width="4"/>
<line x1="464" y1="346.8" x2="472" y2="346.8" stroke-width="2.4"/>
<text transform="translate(475.5,354.5) scale(0.88,1)" x="0" y="0" font-size="22.5" font-weight="bold" >6</text>
<path d="M699.4,412.4 L695.1,440 L700.5,441 L706.2,413.6 Z" stroke-width="1.4" fill="#000"/>
<ellipse cx="697.8" cy="440.5" rx="2.8" ry="2.8" stroke-width="0" fill="#000" transform="rotate(0 697.8 440.5)"/>
<path d="M695.4,411.7 L697.3,409.5 L709.2,411.6 L710.2,414.3 Z" stroke-width="1.8" fill="#222"/>
<line x1="697.8" y1="442" x2="658.4" y2="442.7" stroke-width="1.8"/>
<text transform="translate(718.5,418.5) scale(0.88,1)" x="0" y="0" font-size="22.5" font-weight="bold" >9</text>
<line x1="710" y1="411.7" x2="717" y2="411.7" stroke-width="2.2"/>
<path d="M706.9,458.5 L703.5,487.1 L708.9,487.9 L713.9,459.5 Z" stroke-width="1.4" fill="#000"/>
<ellipse cx="706.2" cy="487.5" rx="2.8" ry="2.8" stroke-width="0" fill="#000" transform="rotate(0 706.2 487.5)"/>
<path d="M703,457.9 L704.8,455.7 L716.7,457.4 L717.8,460.1 Z" stroke-width="1.8" fill="#222"/>
<line x1="706" y1="488.8" x2="651.7" y2="475.4" stroke-width="1.8"/>
<text transform="translate(725.5,464.5) scale(0.88,1)" x="0" y="0" font-size="22.5" font-weight="bold" >9</text>
<line x1="718" y1="458" x2="724" y2="458" stroke-width="2.2"/>
<path d="M296,569.5 Q296,567 299,567 L319,567 Q322,567 322,569.5 L322,571 Q322,573 319,573 L299,573 Q296,573 296,571 Z" stroke-width="1.8" fill="#ccc" stroke="#555"/>
<line x1="300" y1="570" x2="318" y2="570" stroke-width="1.6" stroke="#fff"/>
<path d="M299.5,573 L299.5,579 Q299.5,580 301,580 L317,580 Q318.5,580 318.5,579 L318.5,573" stroke-width="1.8" fill="#bbb" stroke="#555"/>
<line x1="302" y1="576.5" x2="316" y2="576.5" stroke-width="1.6" stroke="#eee"/>
<line x1="305" y1="580.4" x2="305" y2="594" stroke-width="2.4"/>
<text transform="translate(300.8,612.5) scale(0.88,1)" x="0" y="0" font-size="22.5" font-weight="bold" >2</text>
<path d="M331,576.4 L332,567.4 L336,564.4 L346,564.4 L350,567.4 L351,576.4 Z" stroke-width="1.5" fill="#aaa" stroke="#555"/>
<line x1="334" y1="568.4" x2="348" y2="568.4" stroke-width="1.5" stroke="#666"/>
<line x1="333" y1="572.4" x2="349" y2="572.4" stroke-width="1.5" stroke="#666"/>
<ellipse cx="341" cy="570.4" rx="2.2" ry="2" stroke-width="0" fill="#fff" transform="rotate(0 341 570.4)"/>
<line x1="341" y1="577.4" x2="340.5" y2="600" stroke-width="9.5"/>
<line x1="345" y1="585.5" x2="359.2" y2="585.5" stroke-width="2.4"/>
<text transform="translate(359.5,596) scale(0.88,1)" x="0" y="0" font-size="22.5" font-weight="bold" >7</text>
<line x1="322" y1="555" x2="335.6" y2="595.6" stroke-width="1.5"/>
<path d="M363,577 L367.5,583.5 L385.5,578 L381,570 L365,572 Z" stroke-width="1.3" fill="#fff" stroke="#777"/>
<path d="M363,577 L367.5,583.5 L385.5,578" stroke-width="2.6" fill="none"/>
<ellipse cx="373" cy="575" rx="3.4" ry="3" stroke-width="1" fill="#000" transform="rotate(0 373 575)"/>
<line x1="384.6" y1="572.8" x2="399.7" y2="572.8" stroke-width="2.4"/>
<text transform="translate(402,579) scale(0.88,1)" x="0" y="0" font-size="22.5" font-weight="bold" >8</text>
<line x1="367.7" y1="572" x2="301" y2="486" stroke-width="1.5"/>
<path d="M459,539.5 Q459,537 462,537 L482,537 Q485,537 485,539.5 L485,541 Q485,543 482,543 L462,543 Q459,543 459,541 Z" stroke-width="1.8" fill="#ccc" stroke="#555"/>
<line x1="463" y1="540" x2="481" y2="540" stroke-width="1.6" stroke="#fff"/>
<path d="M462.5,543 L462.5,549 Q462.5,550 464,550 L480,550 Q481.5,550 481.5,549 L481.5,543" stroke-width="1.8" fill="#bbb" stroke="#555"/>
<line x1="465" y1="546.5" x2="479" y2="546.5" stroke-width="1.6" stroke="#eee"/>
<line x1="469" y1="549" x2="469" y2="562" stroke-width="2.4"/>
<text transform="translate(465.5,582) scale(0.88,1)" x="0" y="0" font-size="22.5" font-weight="bold" >2</text>
<path d="M490.5,547 L491.5,538 L495.5,535 L505.5,535 L509.5,538 L510.5,547 Z" stroke-width="1.5" fill="#aaa" stroke="#555"/>
<line x1="493.5" y1="539" x2="507.5" y2="539" stroke-width="1.5" stroke="#666"/>
<line x1="492.5" y1="543" x2="508.5" y2="543" stroke-width="1.5" stroke="#666"/>
<ellipse cx="500.5" cy="541" rx="2.2" ry="2" stroke-width="0" fill="#fff" transform="rotate(0 500.5 541)"/>
<line x1="500.5" y1="548" x2="500" y2="569" stroke-width="9.5"/>
<line x1="505" y1="548" x2="516" y2="548" stroke-width="2.4"/>
<text transform="translate(519,555) scale(0.88,1)" x="0" y="0" font-size="22.5" font-weight="bold" >7</text>
<line x1="468" y1="486" x2="494" y2="560" stroke-width="1.5"/>
<path d="M121,512.5 L57.5,564.5 L85,522.5 L105,535" stroke-width="2.4" fill="none"/>
<text x="20.5" y="584" font-size="22" font-weight="normal" >FR.</text>
</svg></body></html>
